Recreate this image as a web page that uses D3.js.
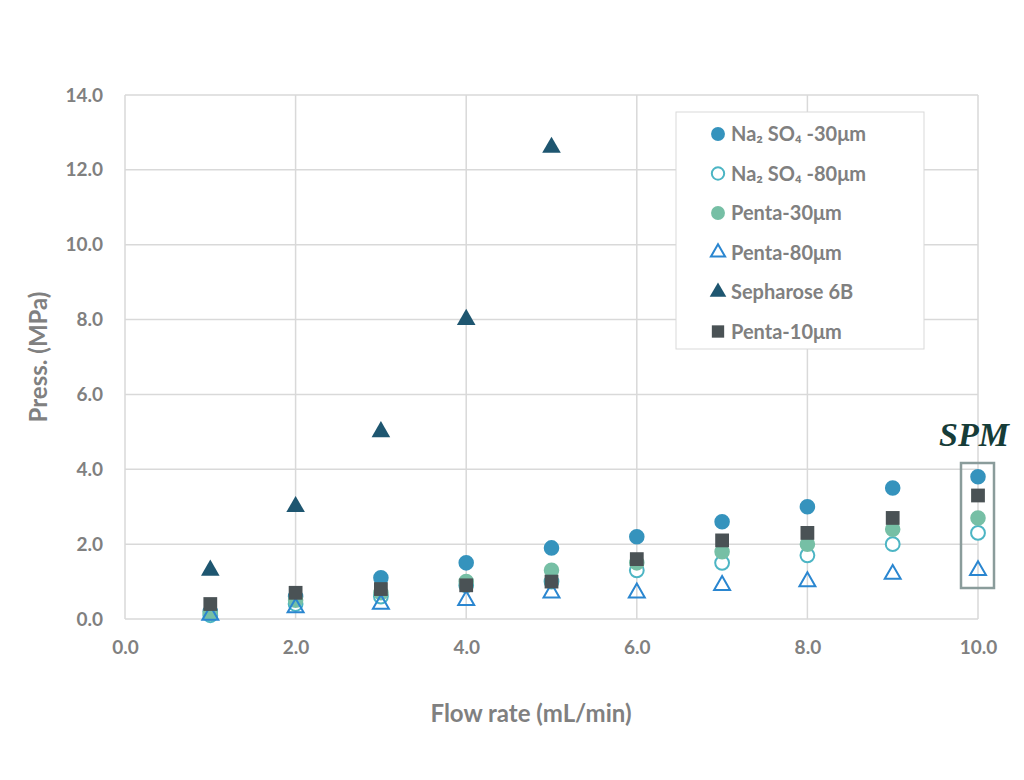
<!DOCTYPE html><html><head><meta charset="utf-8"><script src="https://cdn.jsdelivr.net/npm/d3@7"></script>
<style>body{margin:0;background:#fff}text{font-family:"Lato","Open Sans",sans-serif;font-weight:bold;fill:#808080}</style></head><body>
<svg id="c" width="1024" height="780"></svg>
<script>
const flow=[1,2,3,4,5,6,7,8,9,10];
const na30=[0.2,0.6,1.1,1.5,1.9,2.2,2.6,3.0,3.5,3.8];
const na80=[0.1,0.4,0.6,0.9,1.0,1.3,1.5,1.7,2.0,2.3];
const penta30=[0.15,0.5,0.7,1.0,1.3,1.5,1.8,2.0,2.4,2.7];
const penta80=[0.1,0.3,0.4,0.5,0.7,0.7,0.9,1.0,1.2,1.3];
const sepharose=[1.3,3.0,5.0,8.0,12.6];
const penta10=[0.4,0.7,0.8,0.9,1.0,1.6,2.1,2.3,2.7,3.3];
const xTicks=[0,2,4,6,8,10], yTicks=[0,2,4,6,8,10,12,14];
const series=[
 {name:"Na₂ SO₄ -30μm",v:na30,sym:d3.symbolCircle,fill:"#3593bd",stroke:"none",size:190},
 {name:"Na₂ SO₄ -80μm",v:na80,sym:d3.symbolCircle,fill:"#fff",stroke:"#4cb5c4",size:150},
 {name:"Penta-30μm",v:penta30,sym:d3.symbolCircle,fill:"#76bfa5",stroke:"none",size:190},
 {name:"Penta-80μm",v:penta80,sym:d3.symbolTriangle,fill:"none",stroke:"#2a86d0",size:110},
 {name:"Sepharose 6B",v:sepharose,sym:d3.symbolTriangle,fill:"#1e5670",stroke:"none",size:150},
 {name:"Penta-10μm",v:penta10,sym:d3.symbolSquare,fill:"#4a5255",stroke:"none",size:190}];
const svg=d3.select("#c");
const x=d3.scaleLinear().domain([0,10]).range([125,978]);
const y=d3.scaleLinear().domain([0,14]).range([619,95]);
const g=svg.append("g");
yTicks.forEach(t=>g.append("line").attr("x1",125).attr("x2",978).attr("y1",y(t)).attr("y2",y(t)).attr("stroke","#d9d9d9").attr("stroke-width",1.5));
xTicks.forEach(t=>g.append("line").attr("y1",95).attr("y2",619).attr("x1",x(t)).attr("x2",x(t)).attr("stroke","#d9d9d9").attr("stroke-width",1.5));
const ax=svg.append("g").attr("transform","translate(0,619)").call(d3.axisBottom(x).tickValues(xTicks).tickFormat(d3.format(".1f")).tickSize(0).tickPadding(22));
const ay=svg.append("g").attr("transform","translate(125,0)").call(d3.axisLeft(y).tickValues(yTicks).tickFormat(d3.format(".1f")).tickSize(0).tickPadding(22));
[ax,ay].forEach(a=>{a.select(".domain").remove();a.selectAll("text").attr("font-size",19).style("fill","#808080").style("font-family","Lato").style("font-weight","bold");});
svg.append("text").attr("x",531).attr("y",722).attr("text-anchor","middle").attr("font-size",24).text("Flow rate (mL/min)");
svg.append("text").attr("transform","translate(47,357) rotate(-90)").attr("text-anchor","middle").attr("font-size",24).text("Press. (MPa)");
series.forEach(s=>{
 svg.append("g").selectAll("path").data(s.v).join("path")
  .attr("transform",(d,i)=>`translate(${x(flow[i])},${y(d)})`)
  .attr("d",d3.symbol().type(s.sym).size(s.size)).attr("fill",s.fill).attr("stroke",s.stroke).attr("stroke-width",2);
});
const lg=svg.append("g");
lg.append("rect").attr("x",676).attr("y",112).attr("width",248).attr("height",237).attr("fill","#fff").attr("stroke","#d9d9d9");
series.forEach((s,i)=>{
 const yy=134+i*39.5;
 lg.append("path").attr("transform",`translate(718,${yy})`).attr("d",d3.symbol().type(s.sym).size(s.size*0.8)).attr("fill",s.fill).attr("stroke",s.stroke).attr("stroke-width",2);
 lg.append("text").attr("x",731).attr("y",yy+7).attr("font-size",20).text(s.name);
});
svg.append("rect").attr("x",961).attr("y",463).attr("width",33).attr("height",125).attr("fill","none").attr("stroke","#8a9c9b").attr("stroke-width",2.5);
svg.append("text").attr("x",974).attr("y",446).attr("text-anchor","middle").attr("font-size",34).style("font-family","Liberation Serif").style("font-style","italic").style("font-weight","bold").style("fill","#163c38").text("SPM");
</script></body></html>
